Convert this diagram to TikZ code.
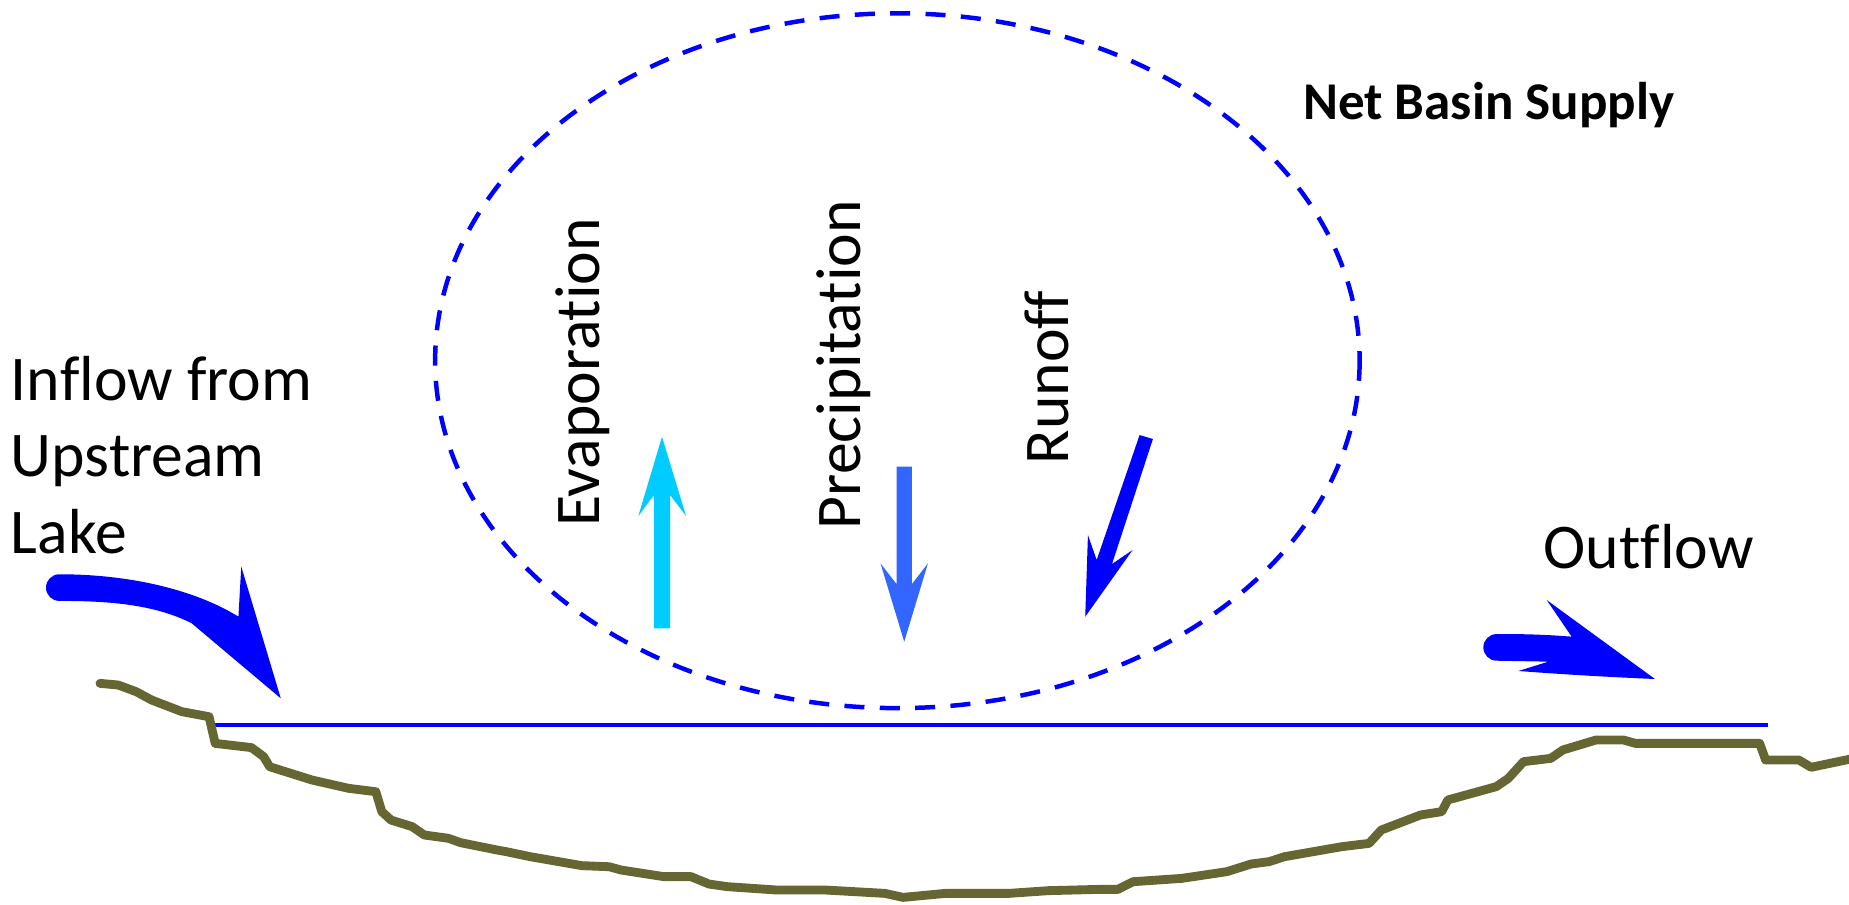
\documentclass[tikz,border=0pt]{standalone}
\usepackage{fontspec}
\setmainfont[Ligatures={NoCommon}]{Carlito}
\definecolor{flowblue}{RGB}{0,0,255}
\definecolor{evapcyan}{RGB}{0,204,255}
\definecolor{precblue}{RGB}{51,102,255}
\definecolor{bedolive}{RGB}{102,102,51}
\tikzset{
  txt/.style={inner sep=0pt, font=\fontsize{54}{64.5}\selectfont},
  titletxt/.style={inner sep=0pt, font=\fontsize{45}{50}\selectfont\bfseries},
  basin/.style={flowblue, line width=3.8, dash pattern=on 17 off 13},
  water/.style={flowblue, line width=3.8},
  bed/.style={bedolive, line width=7.5, line join=round, line cap=round}
}
\begin{document}
\begin{tikzpicture}[x=1pt,y=-1pt]
\useasboundingbox (0,0) rectangle (1568,767);

% net basin supply boundary
\draw[basin] (761,305.9) ellipse [x radius=392, y radius=294.6];

% water surface
\coordinate (wl) at (182,615);
\coordinate (wr) at (1499,615);
\draw[water] (wl) -- (wr);

% lake bed
\draw[bed] (84.8,579.5) -- (100.2,580.9) -- (115.6,586.6) -- (128.5,593.6) -- (154.2,603.5) -- (177.3,607.8)
  -- (182.5,630.4) -- (213.3,634.0) -- (223.6,641.7) -- (228.7,650.2) -- (264.7,661.5) -- (295.5,668.5)
  -- (318.7,671.4) -- (323.8,688.3) -- (331.5,695.4) -- (349.5,701.0) -- (359.8,708.1) -- (380.3,710.9)
  -- (390.6,714.6) -- (421.4,720.8) -- (429.2,722.2) -- (449.7,726.5) -- (493.4,734.1) -- (516.5,735.0)
  -- (526.8,737.8) -- (562.8,743.4) -- (585.9,743.4) -- (601.3,749.7) -- (616.7,751.9) -- (657.9,754.7)
  -- (699.0,754.7) -- (750.4,757.6) -- (765.8,761.0) -- (801.7,757.6) -- (855.6,757.6) -- (889.0,755.3)
  -- (932.6,754.2) -- (948.0,754.2) -- (960.8,747.7) -- (1001.9,744.9) -- (1040.4,739.2) -- (1060.9,732.7)
  -- (1076.3,730.7) -- (1089.2,726.5) -- (1137.9,718.0) -- (1161.0,715.2) -- (1171.3,703.9) -- (1204.7,691.1)
  -- (1222.6,688.3) -- (1227.8,678.4) -- (1268.8,667.1) -- (1279.1,660.1) -- (1292.0,645.9) -- (1315.1,643.1)
  -- (1325.3,636.0) -- (1353.6,627.5) -- (1376.6,627.5) -- (1386.9,630.4) -- (1492.2,630.4) -- (1497.3,644.5)
  -- (1525.5,644.5) -- (1535.8,650.7) -- (1572,643.1);

% inflow arrow
\fill[flowblue] (50.3,487) .. controls (110,487) and (165,500) .. (202.2,522.9)
  -- (204.6,480.5) -- (238.1,592.2) -- (162.6,528.6)
  .. controls (130,512) and (90,509.6) .. (50.3,509.6)
  arc[start angle=90, end angle=270, radius=11.3] -- cycle;

% outflow arrow
\fill[flowblue] (1269.2,537.7) .. controls (1295,537.5) and (1315,538.5) .. (1332.8,539.9)
  -- (1311.6,508.8) -- (1403.4,575.8)
  .. controls (1360,574) and (1320,571.5) .. (1287.6,569.0)
  -- (1313.0,561.1) -- (1269.2,560.3)
  arc[start angle=90, end angle=270, radius=11.3] -- cycle;

% evaporation arrow
\fill[evapcyan] (561.4,370.3) -- (581.8,437.6) -- (568.2,419.8) -- (568.2,532.9)
  -- (554.6,532.9) -- (554.6,419.8) -- (541.3,437.6) -- cycle;

% precipitation arrow
\fill[precblue] (760.3,395.8) -- (773.3,395.8) -- (773.3,495.3) -- (786.9,477.8)
  -- (766.8,544.2) -- (746.7,477.8) -- (760.3,495.3) -- cycle;

% runoff arrow
\fill[flowblue] (966.4,368.9) -- (977.7,372.3) -- (943.0,478.3) -- (960.5,466.4)
  -- (920.3,523.0) -- (922.6,453.7) -- (930.0,474.9) -- cycle;

% labels
\node[txt, anchor=base west, align=left] (inflow) at (9,469) {Inflow from\\Upstream\\Lake};
\node[txt, anchor=base west] (outflow) at (1309,482) {Outflow};
\node[txt, rotate=90, anchor=base west] (evap) at (508,447) {Evaporation};
\node[txt, rotate=90, anchor=base west] (prec) at (730,449) {Precipitation};
\node[txt, rotate=90, anchor=base west] (runoff) at (906,394) {Runoff};
\node[titletxt, anchor=base west] (nbs) at (1105,101) {Net Basin Supply};
\end{tikzpicture}
\end{document}
